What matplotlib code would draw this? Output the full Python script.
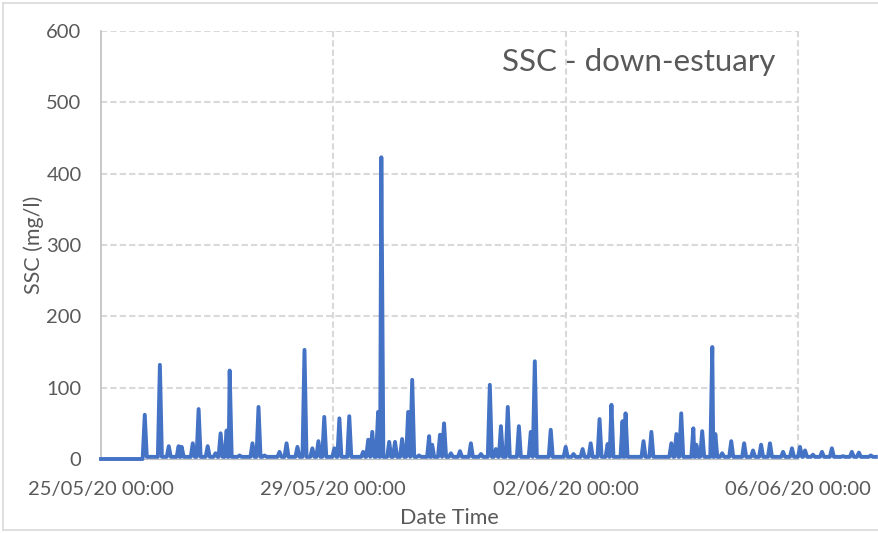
import matplotlib
matplotlib.use("Agg")
import matplotlib.pyplot as plt
import matplotlib.dates as mdates
import pandas as pd

# spike peaks (time, SSC mg/l)
peak_times = [
    "2020-05-25 18:05", "2020-05-26 00:20", "2020-05-26 04:00", "2020-05-26 08:05",
    "2020-05-26 09:20", "2020-05-26 13:55", "2020-05-26 16:20", "2020-05-26 20:05",
    "2020-05-26 23:20", "2020-05-27 01:25", "2020-05-27 03:55", "2020-05-27 05:10",
    "2020-05-27 09:15", "2020-05-27 14:35", "2020-05-27 17:05", "2020-05-27 19:35",
    "2020-05-28 01:45", "2020-05-28 04:40", "2020-05-28 09:10", "2020-05-28 12:05",
    "2020-05-28 15:20", "2020-05-28 17:50", "2020-05-28 20:15", "2020-05-29 00:25",
    "2020-05-29 02:30", "2020-05-29 06:35", "2020-05-29 12:20", "2020-05-29 14:25",
    "2020-05-29 16:05", "2020-05-29 18:30", "2020-05-29 19:50", "2020-05-29 23:05",
    "2020-05-30 01:30", "2020-05-30 04:25", "2020-05-30 06:55", "2020-05-30 08:35",
    "2020-05-30 11:25", "2020-05-30 15:35", "2020-05-30 16:50", "2020-05-30 20:05",
    "2020-05-30 21:45", "2020-05-31 00:35", "2020-05-31 04:20", "2020-05-31 08:50",
    "2020-05-31 13:00", "2020-05-31 16:40", "2020-05-31 19:10", "2020-05-31 21:15",
    "2020-06-01 00:05", "2020-06-01 04:40", "2020-06-01 09:35", "2020-06-01 11:15",
    "2020-06-01 17:50", "2020-06-02 00:00", "2020-06-02 03:15", "2020-06-02 07:00",
    "2020-06-02 10:20", "2020-06-02 14:00", "2020-06-02 17:20", "2020-06-02 18:55",
    "2020-06-02 23:30", "2020-06-03 00:45", "2020-06-03 08:10", "2020-06-03 11:25",
    "2020-06-03 19:40", "2020-06-03 21:45", "2020-06-03 23:45", "2020-06-04 04:45",
    "2020-06-04 06:00", "2020-06-04 08:25", "2020-06-04 12:35", "2020-06-04 13:50",
    "2020-06-04 16:40", "2020-06-04 20:25", "2020-06-05 01:45", "2020-06-05 05:25",
    "2020-06-05 08:45", "2020-06-05 12:25", "2020-06-05 17:50", "2020-06-05 21:30",
    "2020-06-06 00:50", "2020-06-06 02:55", "2020-06-06 06:10", "2020-06-06 09:55",
    "2020-06-06 14:00", "2020-06-06 18:35", "2020-06-06 22:15", "2020-06-07 01:10",
    "2020-06-07 06:05",
]
peak_vals = [
    62, 132, 18, 18,
    17, 22, 70, 18,
    8, 36, 40, 124,
    5, 22, 73, 5,
    10, 22, 17, 153,
    15, 25, 59, 15,
    57, 60, 10, 27,
    38, 66, 423, 24,
    24, 28, 66, 111,
    5, 32, 20, 34,
    50, 8, 11, 22,
    7, 104, 14, 46,
    73, 46, 38, 137,
    41, 17, 7, 14,
    22, 56, 21, 76,
    53, 64, 25, 38,
    22, 35, 64, 43,
    20, 39, 157, 35,
    8, 25, 22, 12,
    20, 22, 10, 15,
    17, 12, 6, 10,
    15, 4, 10, 9,
    5,
]
start_time = "2020-05-25 00:00"
quiet_until = "2020-05-25 17:10"
end_time = "2020-06-07 08:10"
base_level = 3

# build the line: flat start, then each spike rising from and falling to the base
flank = pd.Timedelta(minutes=50)
pts = [(pd.Timestamp(start_time), 0), (pd.Timestamp(quiet_until), 0)]
for t, v in zip(pd.to_datetime(peak_times), peak_vals):
    pts += [(t - flank, base_level), (t, v), (t + flank, base_level)]
pts.append((pd.Timestamp(end_time), base_level))
pts.sort(key=lambda p: p[0])
x = [p[0] for p in pts]
y = [p[1] for p in pts]

plt.rcParams['font.family'] = ['Lato', 'DejaVu Sans']
txt = '#595959'
grid_c = '#D9D9D9'

fig = plt.figure(figsize=(8.79, 5.33), dpi=100)
ax = fig.add_axes([101/879, 74/533, 697/879, 428/533])

x0 = pd.Timestamp("2020-05-25 00:00")
x1 = pd.Timestamp("2020-06-06 00:00")
ax.set_xlim(x0, x1)
ax.set_ylim(0, 600)

for yv in range(100, 700, 100):
    ax.axhline(yv, color=grid_c, lw=1.5, ls=(0, (3, 1.5)), zorder=1)
for xv in ["2020-05-29", "2020-06-02", "2020-06-06"]:
    ax.axvline(pd.Timestamp(xv), color=grid_c, lw=1.5, ls=(0, (3, 1.5)), zorder=1, clip_on=False)

ax.plot(x, y, color='#4472C4', lw=2.8, solid_joinstyle='round', clip_on=False, zorder=3)

ax.xaxis.set_major_locator(mdates.DayLocator(interval=4))
ax.xaxis.set_major_formatter(mdates.DateFormatter('%d/%m/%y %H:%M'))
ax.set_yticks(range(0, 700, 100))
ax.tick_params(length=0, labelsize=14.5, colors=txt)
ax.tick_params(axis='x', pad=16)
ax.tick_params(axis='y', pad=14)

for s in ['top', 'right']:
    ax.spines[s].set_visible(False)
ax.spines['left'].set_color('#BFBFBF')
ax.spines['bottom'].set_color('#BFBFBF')
ax.spines['left'].set_linewidth(1.2)

ax.set_xlabel('Date Time', fontsize=15.5, color=txt, labelpad=7)
ax.set_ylabel('SSC (mg/l)', fontsize=15.5, color=txt, labelpad=2)

fig.text(502/879, 1 - 62/533, 'SSC - down-estuary', fontsize=22.5, color=txt, va='center', ha='left')

# light chart border
fig.add_artist(plt.Line2D([3/879, 3/879], [3/533, 1 - 3/533], color=grid_c, lw=1.2))
fig.add_artist(plt.Line2D([3/879, 1], [3/533, 3/533], color=grid_c, lw=1.2))
fig.add_artist(plt.Line2D([3/879, 1], [1 - 3/533, 1 - 3/533], color=grid_c, lw=1.2))

fig.savefig('out.png', dpi=100)
